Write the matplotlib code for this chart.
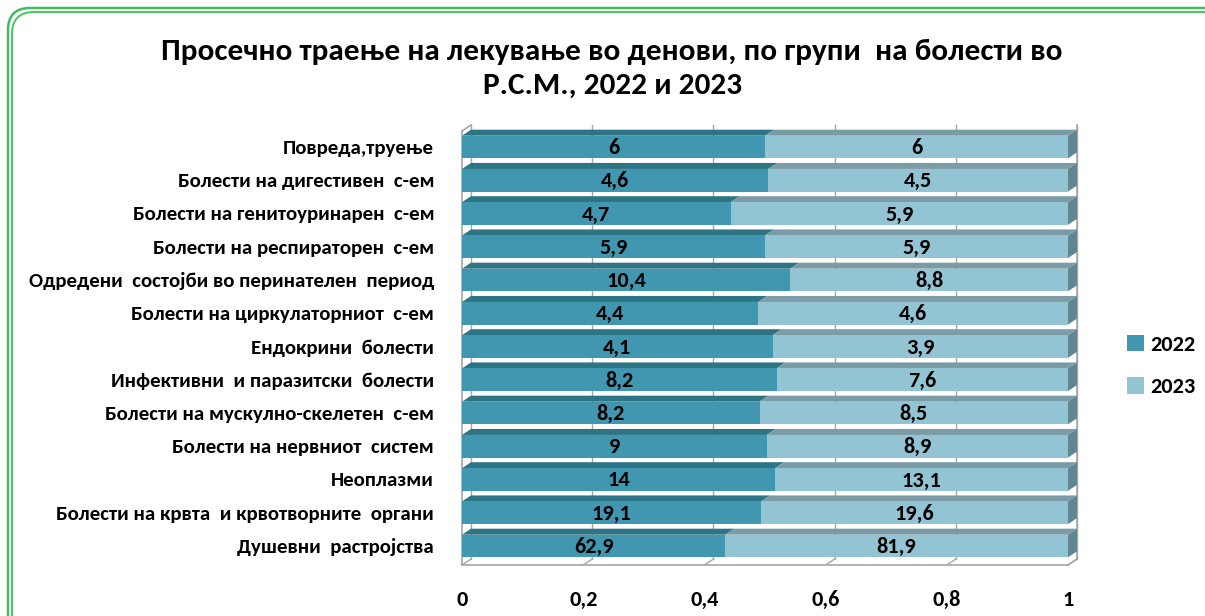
import matplotlib
matplotlib.use("Agg")
import matplotlib.pyplot as plt
from matplotlib.patches import Polygon, FancyBboxPatch
import numpy as np

plt.rcParams['font.family'] = ['Carlito', 'Fira Sans Condensed', 'DejaVu Sans']

categories = [
    "Повреда,труење",
    "Болести на дигестивен  с-ем",
    "Болести на генитоуринарен  с-ем",
    "Болести на респираторен  с-ем",
    "Одредени  состојби во перинателен  период",
    "Болести на циркулаторниот  с-ем",
    "Ендокрини  болести",
    "Инфективни  и паразитски  болести",
    "Болести на мускулно-скелетен  с-ем",
    "Болести на нервниот  систем",
    "Неоплазми",
    "Болести на крвта  и крвотворните  органи",
    "Душевни  растројства",
]
v2022 = [6, 4.6, 4.7, 5.9, 10.4, 4.4, 4.1, 8.2, 8.2, 9, 14, 19.1, 62.9]
v2023 = [6, 4.5, 5.9, 5.9, 8.8, 4.6, 3.9, 7.6, 8.5, 8.9, 13.1, 19.6, 81.9]
labels2022 = ["6", "4,6", "4,7", "5,9", "10,4", "4,4", "4,1", "8,2", "8,2", "9", "14", "19,1", "62,9"]
labels2023 = ["6", "4,5", "5,9", "5,9", "8,8", "4,6", "3,9", "7,6", "8,5", "8,9", "13,1", "19,6", "81,9"]
xticks = [0, 0.2, 0.4, 0.6, 0.8, 1]
xticklabels = ["0", "0,2", "0,4", "0,6", "0,8", "1"]
series = ["2022", "2023"]

c22 = "#4097AF"
c23 = "#93C4D4"
c22_top = "#2D7484"
c23_top = "#7B9CA6"
side23 = "#5F8691"
grid_c = "#A6A6A6"

W, H = 1205, 616
fig = plt.figure(figsize=(W / 100, H / 100), dpi=100)

# border (double green rounded line)
for off, lw in [(0, 1.8), (4, 1.3)]:
    p = FancyBboxPatch((8 + off, -40), 1222 - 2 * off, 616 - 8 - off + 40,
                       boxstyle="round,pad=0,rounding_size=22",
                       transform=None, fill=False, edgecolor="#3DBE5A", linewidth=lw)
    fig.patches.append(p)

ax = fig.add_axes([462 / W, (H - 565) / H, 606 / W, (565 - 125) / H])
n = len(categories)
y = np.arange(n)
ax.set_xlim(0, 1)
ax.set_ylim(12 + (565 - 546) / 33.25, -(147 - 125) / 33.25)

tot = np.array(v2022) + np.array(v2023)
f22 = np.array(v2022) / tot
f23 = np.array(v2023) / tot

dx = 9 / 606
dy = 6 / 33.25
bh = 0.68
ylo, yhi = ax.get_ylim()

# back wall gridlines and floor
for xt in xticks:
    ax.plot([xt + dx, xt + dx], [ylo - dy, yhi], color=grid_c, lw=1.0, zorder=0, clip_on=False)
    ax.plot([xt, xt + dx], [ylo, ylo - dy], color=grid_c, lw=1.0, zorder=0, clip_on=False)
ax.plot([0, 0], [ylo, yhi + dy], color=grid_c, lw=1.2, zorder=0, clip_on=False)
ax.plot([0, dx], [yhi + dy, yhi], color=grid_c, lw=1.2, zorder=0, clip_on=False)
ax.plot([0, 1], [ylo, ylo], color=grid_c, lw=1.2, zorder=0, clip_on=False)
ax.plot([1, 1 + dx], [ylo, ylo - dy], color=grid_c, lw=1.2, zorder=0, clip_on=False)
ax.plot([1 + dx, 1 + dx], [ylo - dy, yhi], color=grid_c, lw=1.2, zorder=0, clip_on=False)

b1 = ax.barh(y, f22, height=bh, color=c22, label=series[0], zorder=3)
b2 = ax.barh(y, f23, left=f22, height=bh, color=c23, label=series[1], zorder=3)

for i in range(n):
    top = y[i] - bh / 2
    bot = y[i] + bh / 2
    ax.add_patch(Polygon([(0, top), (f22[i], top), (f22[i] + dx, top - dy), (dx, top - dy)],
                         closed=True, color=c22_top, zorder=2, clip_on=False, lw=0))
    ax.add_patch(Polygon([(f22[i], top), (1, top), (1 + dx, top - dy), (f22[i] + dx, top - dy)],
                         closed=True, color=c23_top, zorder=2, clip_on=False, lw=0))
    ax.add_patch(Polygon([(1, top), (1, bot), (1 + dx, bot - dy), (1 + dx, top - dy)],
                         closed=True, color=side23, zorder=2, clip_on=False, lw=0))
    ax.text(f22[i] / 2, y[i] + 0.03, labels2022[i], ha="center", va="center",
            fontsize=16, fontweight="bold", zorder=5)
    ax.text(f22[i] + f23[i] / 2, y[i] + 0.03, labels2023[i], ha="center", va="center",
            fontsize=16, fontweight="bold", zorder=5)

for s in ax.spines.values():
    s.set_visible(False)
ax.set_yticks(y)
ax.set_yticklabels(categories, fontsize=15, fontweight="bold")
ax.tick_params(axis="y", length=0, pad=20)
ax.set_xticks(xticks)
ax.set_xticklabels(xticklabels, fontsize=16, fontweight="bold")
ax.tick_params(axis="x", length=0, pad=18)
ax.patch.set_visible(False)

fig.text(0.508, 1 - 52 / H, "Просечно траење на лекување во денови, по групи  на болести во",
         ha="center", va="center", fontsize=22.5, fontweight="bold")
fig.text(0.508, 1 - 86 / H, "Р.С.М., 2022 и 2023",
         ha="center", va="center", fontsize=22.5, fontweight="bold")

fig.legend(handles=[b1, b2], labels=series, loc="center left",
           bbox_to_anchor=(1127 / W, 1 - 366 / H), frameon=False,
           borderpad=0, borderaxespad=0,
           handlelength=0.75, handleheight=0.75, handletextpad=0.3, labelspacing=1.0,
           prop={"size": 16, "weight": "bold"})

fig.savefig("out.png", dpi=100)
